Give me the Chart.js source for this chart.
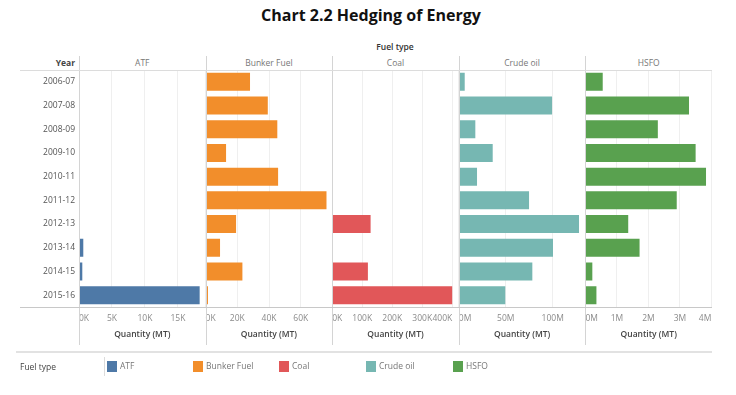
<!DOCTYPE html>
<html>
<head>
<meta charset="utf-8">
<script src="https://cdn.jsdelivr.net/npm/chart.js@4"></script>
<style>
  body { margin: 0; background: #fff; font-family: "Open Sans", sans-serif; }
  #wrap { position: relative; width: 736px; height: 395px; overflow: hidden; }
  #wrap canvas { position: absolute; left: 0; top: 60px; }
  .t { position: absolute; white-space: nowrap; }
  .ln { position: absolute; background: #d4d4d4; }
  .sw { position: absolute; width: 10px; height: 11px; }
</style>
</head>
<body>
<div id="wrap">
  <div class="t" style="left:0;width:742px;top:4px;text-align:center;font-weight:bold;font-size:16px;color:#111">Chart 2.2 Hedging of Energy</div>
  <div class="t" style="left:345px;width:100px;top:41px;text-align:center;font-size:8.5px;font-weight:600;color:#333">Fuel type</div>
  <div class="t" style="left:20px;width:55px;top:57px;text-align:right;font-size:8.5px;font-weight:bold;color:#444">Year</div>
  <div id="heads"></div>
  <canvas id="chart" width="736" height="290"></canvas>
  <div id="lines"></div>
  <div id="legend"></div>
</div>
<script>
const years = ["2006-07", "2007-08", "2008-09", "2009-10", "2010-11",
               "2011-12", "2012-13", "2013-14", "2014-15", "2015-16"]
const fuelTypes = ["ATF", "Bunker Fuel", "Coal", "Crude oil", "HSFO"]
const fuelColors = ["#4e79a7", "#f28e2b", "#e15759", "#76b7b2", "#59a14f"]

// quantity (MT) per year
const atfQty = [null, null, null, null, null, null, null, 650, 500, 18300]
const bunkerQty = [28000, 39200, 45200, 12900, 45700, 76200, 19200, 9100, 23200, 1500]
const coalQty = [null, null, null, null, null, null, 128000, null, 119000, 400000]
const crudeQty = [6.3e6, 99.3e6, 17.6e6, 36.1e6, 19.4e6, 74.8e6, 128e6, 100.3e6, 78.3e6, 49.5e6]
const hsfoQty = [0.55e6, 3.29e6, 2.30e6, 3.50e6, 3.83e6, 2.90e6, 1.36e6, 1.72e6, 0.22e6, 0.35e6]

// axis ticks
const atfTicks = [0, 5000, 10000, 15000]
const atfTickLabels = ["0K", "5K", "10K", "15K"]
const bunkerTicks = [0, 20000, 40000, 60000]
const bunkerTickLabels = ["0K", "20K", "40K", "60K"]
const coalTicks = [0, 100000, 200000, 300000, 400000]
const coalTickLabels = ["0K", "100K", "200K", "300K", "400K"]
const crudeTicks = [0, 50e6, 100e6]
const crudeTickLabels = ["0M", "50M", "100M"]
const hsfoTicks = [0, 1e6, 2e6, 3e6, 4e6]
const hsfoTickLabels = ["0M", "1M", "2M", "3M", "4M"]

const series = [atfQty, bunkerQty, coalQty, crudeQty, hsfoQty]
const ticksList = [atfTicks, bunkerTicks, coalTicks, crudeTicks, hsfoTicks]
const tickLabelsList = [atfTickLabels, bunkerTickLabels, coalTickLabels, crudeTickLabels, hsfoTickLabels]
const axisMax = [19200, 79800, 422000, 134800000, 4020000]

const plotLeft = 79, plotRight = 712
const paneW = (plotRight - plotLeft) / fuelTypes.length

const tickColor = "#8a8a8a"
const smallFont = { family: "Open Sans", size: 8.5 }

const scales = {
  y: {
    type: "category",
    position: "left",
    grid: { display: false, drawTicks: false },
    border: { display: false },
    ticks: { color: "#555", font: smallFont, padding: 4 },
    afterFit: (s) => { s.width = plotLeft }
  }
}

fuelTypes.forEach((name, i) => {
  const tv = ticksList[i]
  const max = axisMax[i]
  const step = tv[1] - tv[0]
  scales["x" + i] = {
    type: "linear",
    position: "bottom",
    stack: "fuel",
    stackWeight: 1,
    min: 0,
    max: max,
    grid: { color: "#efefef", drawTicks: false },
    border: { display: false },
    afterBuildTicks: (s) => {
      // extra unlabelled tick at the pane edge keeps the last label centred
      const vals = tv.slice()
      if (max - tv[tv.length - 1] > step * 0.3) vals.push(max)
      s.ticks = vals.map(v => ({ value: v }))
    },
    afterFit: (s) => { s.height = 43 },
    ticks: {
      align: "inner",
      color: tickColor,
      font: smallFont,
      padding: 6,
      maxRotation: 0,
      autoSkip: false,
      callback: (v, idx) => tickLabelsList[i][idx] ?? ""
    },
    title: {
      display: true,
      text: "Quantity (MT)",
      color: "#444",
      font: { family: "Open Sans", size: 8.5, weight: "600" },
      padding: { top: 0, bottom: 10 }
    }
  }
})

new Chart(document.getElementById("chart"), {
  type: "bar",
  data: {
    labels: years,
    datasets: fuelTypes.map((name, i) => ({
      label: name,
      data: series[i],
      xAxisID: "x" + i,
      backgroundColor: fuelColors[i],
      borderWidth: 0,
      grouped: false,
      barPercentage: 0.76,
      categoryPercentage: 1
    }))
  },
  options: {
    indexAxis: "y",
    responsive: false,
    animation: false,
    layout: { padding: { top: 10, right: 736 - plotRight, left: 0, bottom: 0 } },
    plugins: { legend: { display: false }, tooltip: { enabled: false } },
    scales: scales
  }
})

// Tableau style frame: headers, pane separators, legend
const heads = document.getElementById("heads")
const lines = document.getElementById("lines")
fuelTypes.forEach((name, i) => {
  const x = plotLeft + paneW * i
  heads.innerHTML += `<div class="t" style="left:${x}px;width:${paneW}px;top:57px;text-align:center;font-size:8.5px;color:#777">${name}</div>`
  lines.innerHTML += `<div class="ln" style="left:${Math.round(x)}px;top:56px;width:1px;height:289px"></div>`
})
lines.innerHTML += `<div class="ln" style="left:20px;top:70px;width:${plotRight - 20}px;height:1px;background:#dcdcdc"></div>`
lines.innerHTML += `<div class="ln" style="left:20px;top:307px;width:${plotRight - 20}px;height:1px;background:#c8c8c8"></div>`
lines.innerHTML += `<div class="ln" style="left:16px;top:351px;width:${plotRight - 16}px;height:2px;background:#e2e2e2"></div>`
lines.innerHTML += `<div class="ln" style="left:104px;top:357px;width:1px;height:19px;background:#dcdcdc"></div>`

const legend = document.getElementById("legend")
const legendX = [107, 193, 279, 366, 453]
legend.innerHTML += `<div class="t" style="left:20px;top:361px;font-size:8.5px;color:#444">Fuel type</div>`
fuelTypes.forEach((name, i) => {
  legend.innerHTML += `<div class="sw" style="left:${legendX[i]}px;top:361px;background:${fuelColors[i]}"></div>`
  legend.innerHTML += `<div class="t" style="left:${legendX[i] + 13}px;top:360px;font-size:8.5px;color:#777">${name}</div>`
})
</script>
</body>
</html>
